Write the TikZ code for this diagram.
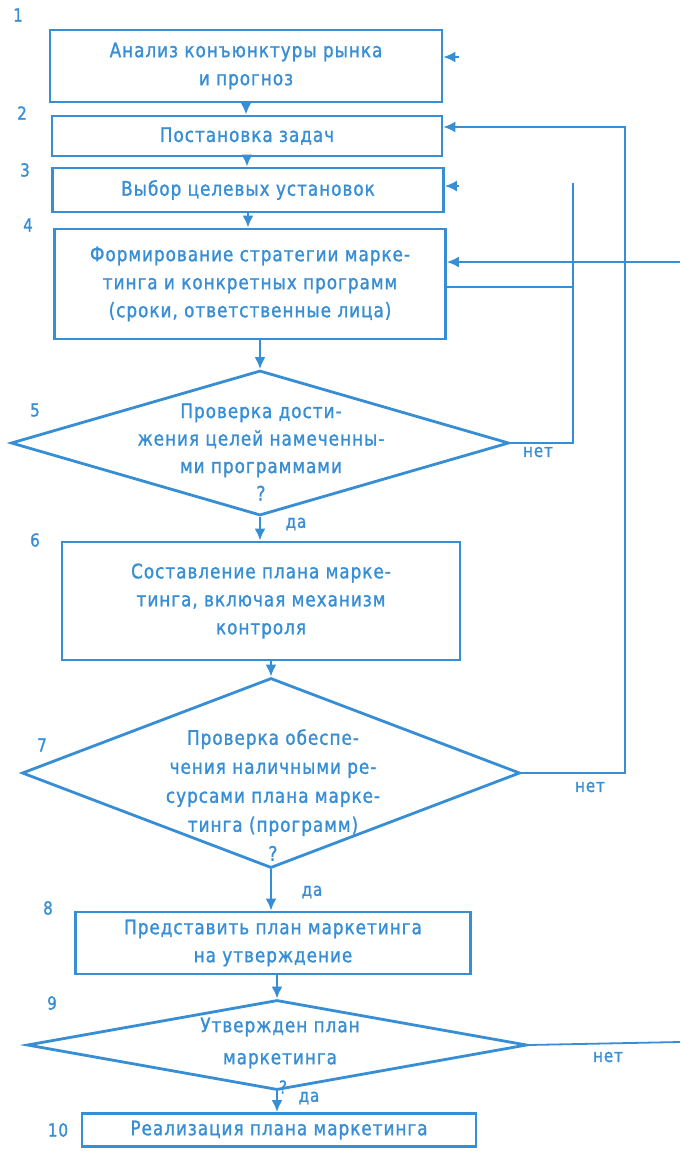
\documentclass[tikz,border=0pt]{standalone}
\usepackage{fontspec}
\setmainfont{DejaVu Sans}[FakeStretch=0.84,LetterSpace=5,FakeBold=1.2]
\usetikzlibrary{shapes.geometric,arrows.meta}
\definecolor{ink}{RGB}{55,142,212}
\tikzset{
  box/.style={draw=ink, line width=2.8pt, rectangle, inner sep=0pt, text=ink,
    align=center, font=\fontsize{20}{28}\selectfont},
  dia/.style={draw=ink, line width=2.8pt, diamond, inner sep=0pt},
  dtext/.style={text=ink, align=center, inner sep=0pt},
  num/.style={text=ink, inner sep=0pt, font=\fontsize{18}{18}\selectfont},
  tag/.style={text=ink, inner sep=0pt, font=\fontsize{18}{18}\selectfont},
  flow/.style={draw=ink, line width=2.3pt, -{Latex[length=12pt,width=11pt]}},
  link/.style={draw=ink, line width=2.4pt},
  back/.style={draw=ink, line width=1.8pt},
  backin/.style={back, -{Latex[length=12pt,width=11pt]}},
}
\begin{document}
\begin{tikzpicture}[x=1pt,y=-1pt]
\useasboundingbox[fill=white] (0,0) rectangle (680,1151);

% process blocks and decisions
\node[box, minimum width=392pt, minimum height=72pt] (b1) at (246,66)
  {Анализ конъюнктуры рынка\\и прогноз};
\node[box, minimum width=390pt, minimum height=40pt] (b2) at (247,136)
  {Постановка задач};
\node[box, minimum width=391pt, minimum height=44pt] (b3) at (248,190)
  {Выбор целевых установок};
\node[box, minimum width=391pt, minimum height=110pt] (b4) at (250,284)
  {Формирование стратегии марке-\\тинга и конкретных программ\\(сроки, ответственные лица)};

\node[dia, minimum width=498pt, minimum height=145pt] (d5) at (260,443) {};
\node[dtext, font=\fontsize{20}{27.5}\selectfont] (t5) at (261,452)
  {Проверка дости-\\жения целей намеченны-\\ми программами\\?};

\node[box, minimum width=398pt, minimum height=118pt] (b6) at (261,601)
  {Составление плана марке-\\тинга, включая механизм\\контроля};

\node[dia, minimum width=498pt, minimum height=190pt] (d7) at (271,773) {};
\node[dtext, font=\fontsize{20}{29}\selectfont] (t7) at (273,795)
  {Проверка обеспе-\\чения наличными ре-\\сурсами плана марке-\\тинга (программ)\\?};

\node[box, minimum width=395pt, minimum height=62pt] (b8) at (273,943)
  {Представить план маркетинга\\на утверждение};

\node[dia, minimum width=500pt, minimum height=90pt] (d9) at (277,1045) {};
\node[dtext, font=\fontsize{20}{32}\selectfont] (t9) at (280,1043)
  {Утвержден план\\маркетинга};
\node[tag] (q9) at (283,1087) {?};

\node[box, minimum width=394pt, minimum height=33pt] (b10) at (279,1130)
  {Реализация плана маркетинга};

% step numbers
\node[num] (n1) at (18,15) {1};
\node[num] (n2) at (22,113) {2};
\node[num] (n3) at (25,170) {3};
\node[num] (n4) at (28,225) {4};
\node[num] (n5) at (35,410) {5};
\node[num] (n6) at (35,540) {6};
\node[num] (n7) at (42,745) {7};
\node[num] (n8) at (48,908) {8};
\node[num] (n9) at (52,1003) {9};
\node[num] (n10) at (58,1130) {10};

% branch labels
\node[tag] (no5) at (538,452) {нет};
\node[tag] (no7) at (590,787) {нет};
\node[tag] (no9) at (608,1057) {нет};
\node[tag] (yes5) at (296,524) {да};
\node[tag] (yes7) at (312,892) {да};
\node[tag] (yes9) at (309,1098) {да};

% main downward flow
\draw[flow] (b1.south) -- (b1.south |- b2.north);
\draw[flow] (b2.south) -- (b2.south |- b3.north);
\draw[flow] (b3.south) -- (b3.south |- b4.north);
\draw[flow] (b4.south -| d5.north) -- (d5.north);
\draw[flow] (d5.south) -- (d5.south |- b6.north);
\draw[flow] (b6.south -| d7.north) -- (d7.north);
\draw[flow] (d7.south) -- (d7.south |- b8.north);
\draw[flow] (b8.south -| d9.north) -- (d9.north);
\draw[flow] (d9.south) -- (d9.south |- b10.north);

% return paths on the right
\coordinate (fbA) at (625,127);
\coordinate (fbB) at (573,183);
\coordinate (j4) at (573,287);
\coordinate (in4) at (680,262);
\coordinate (in1) at (459,57);
\coordinate (in3) at (459,186);
\coordinate (out9) at (680,1042);

\draw[backin] (d7.east) -- (d7.east -| fbA) -- (fbA) -- (fbA -| b2.east);
\draw[back] (d5.east) -- (d5.east -| fbB) -- (fbB);
\draw[link] (j4 -| b4.east) -- (j4);
\draw[backin] (in4) -- (in4 -| b4.east);
\draw[backin] (in1) -- (in1 -| b1.east);
\draw[backin] (in3) -- (in3 -| b3.east);
\draw[back] (d9.east) -- (out9);
\end{tikzpicture}
\end{document}
